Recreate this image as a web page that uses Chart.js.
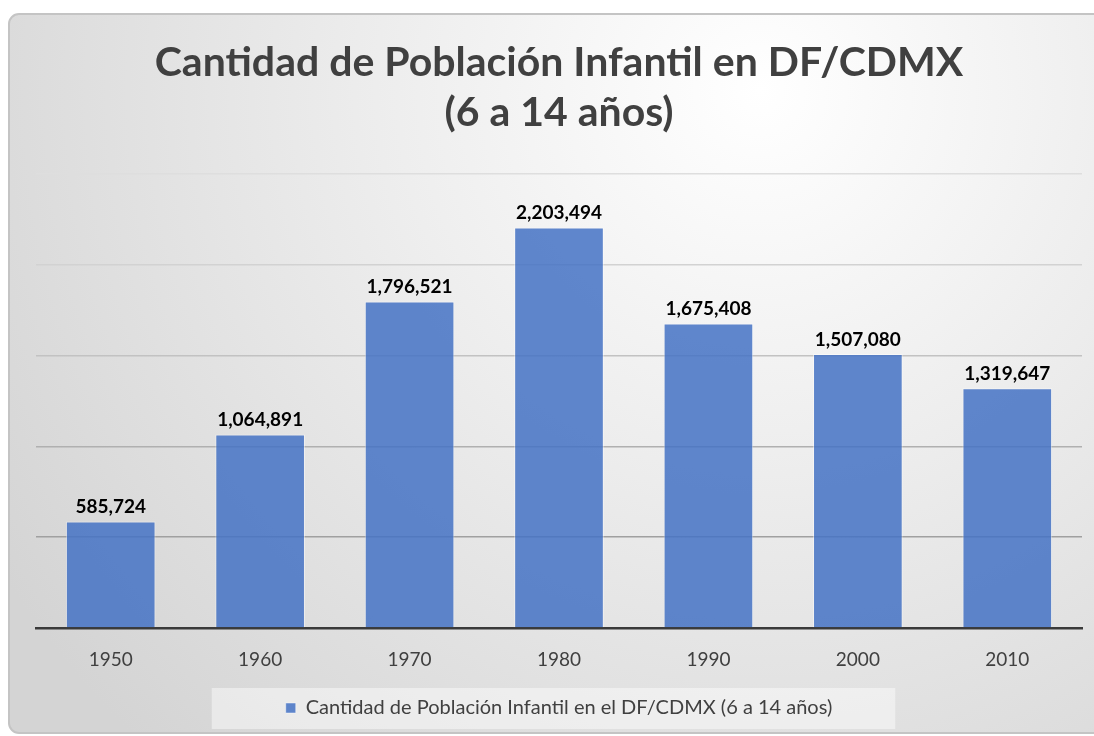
<!DOCTYPE html>
<html>
<head>
<meta charset="utf-8">
<script src="https://cdn.jsdelivr.net/npm/chart.js@4.4.1/dist/chart.umd.min.js"></script>
<style>
    html, body { margin: 0; padding: 0; background: #ffffff; }
    #wrap { width: 1094px; height: 736px; }
</style>
</head>
<body>
<div id="wrap"><canvas id="poblacionChart"></canvas></div>
<script>
// datos del censo
const years = ['1950', '1960', '1970', '1980', '1990', '2000', '2010'];
const poblacion = [585724, 1064891, 1796521, 2203494, 1675408, 1507080, 1319647];
const yTicks = [0, 500000, 1000000, 1500000, 2000000, 2500000];
const titleLines = ['Cantidad de Población Infantil en DF/CDMX', '(6 a 14 años)'];
const seriesName = 'Cantidad de Población Infantil en el DF/CDMX (6 a 14 años)';

const FONT = 'Lato';
const gridColors = ['rgba(0,0,0,0)', '#a0a0a0', '#b0b0b0', '#c2c2c2', '#d2d2d2', '#dedede'];

// fondo con degradado y caja de la leyenda
const fondo = {
    id: 'fondo',
    beforeDraw(chart) {
        const ctx = chart.ctx;
        const w = chart.width, h = chart.height;
        ctx.save();
        ctx.fillStyle = '#ffffff';
        ctx.fillRect(0, 0, w, h);

        const x0 = 9, y0 = 14, x1 = w + 10, y1 = h - 3, r = 10;
        ctx.beginPath();
        ctx.moveTo(x0 + r, y0);
        ctx.lineTo(x1, y0);
        ctx.lineTo(x1, y1);
        ctx.lineTo(x0 + r, y1);
        ctx.arcTo(x0, y1, x0, y1 - r, r);
        ctx.lineTo(x0, y0 + r);
        ctx.arcTo(x0, y0, x0 + r, y0, r);
        ctx.closePath();
        const g = ctx.createRadialGradient(760, 90, 0, 760, 90, 900);
        g.addColorStop(0, '#ffffff');
        g.addColorStop(0.45, '#ececec');
        g.addColorStop(1, '#d4d4d4');
        ctx.fillStyle = g;
        ctx.fill();
        ctx.lineWidth = 2;
        ctx.strokeStyle = '#c4c4c4';
        ctx.stroke();

        const hit = chart.legend.legendHitBoxes[0];
        if (hit) {
            ctx.fillStyle = 'rgba(255,255,255,0.45)';
            ctx.fillRect(hit.left - 74, hit.top + hit.height / 2 - 20, hit.width + 137, 41);
        }
        ctx.restore();
    }
};

// etiquetas de valor encima de cada barra
const etiquetas = {
    id: 'etiquetas',
    afterDatasetsDraw(chart) {
        const ctx = chart.ctx;
        const meta = chart.getDatasetMeta(0);
        ctx.save();
        ctx.font = 'bold 19px ' + FONT;
        ctx.fillStyle = '#000000';
        ctx.textAlign = 'center';
        ctx.textBaseline = 'bottom';
        meta.data.forEach((bar, i) => {
            const v = chart.data.datasets[0].data[i];
            ctx.fillText(v.toLocaleString('en-US'), bar.x, bar.y - 5);
        });
        ctx.restore();
    }
};

new Chart(document.getElementById('poblacionChart'), {
    type: 'bar',
    data: {
        labels: years,
        datasets: [{
            label: seriesName,
            data: poblacion,
            backgroundColor: 'rgba(68,114,196,0.85)',
            borderColor: 'rgba(255,255,255,0.45)',
            borderWidth: 1,
            barPercentage: 0.6,
            categoryPercentage: 1.0
        }]
    },
    options: {
        responsive: true,
        maintainAspectRatio: false,
        animation: false,
        layout: {
            padding: { left: 36, right: 12, top: 0, bottom: 8 }
        },
        plugins: {
            title: {
                display: true,
                text: titleLines,
                color: '#404040',
                font: { family: FONT, size: 41, weight: 'bold', lineHeight: 1.24 },
                padding: { top: 37, bottom: 35 }
            },
            legend: {
                position: 'bottom',
                labels: {
                    color: '#404040',
                    font: { family: FONT, size: 20 },
                    boxWidth: 10,
                    boxHeight: 10,
                    padding: 10
                }
            },
            tooltip: { enabled: false }
        },
        scales: {
            x: {
                grid: { display: false },
                border: { display: true, color: '#3a3a3a', width: 2.5 },
                ticks: {
                    color: '#404040',
                    font: { family: FONT, size: 19 },
                    padding: 12
                },
                afterFit: s => { s.height = 60; }
            },
            y: {
                min: 0,
                max: 2500000,
                afterBuildTicks: s => { s.ticks = yTicks.map(v => ({ value: v })); },
                ticks: { display: false },
                border: { display: false },
                grid: {
                    drawTicks: false,
                    lineWidth: 1.5,
                    color: ctx => gridColors[ctx.index] || '#dddddd'
                },
                afterFit: s => { s.width = 0; }
            }
        }
    },
    plugins: [fondo, etiquetas]
});
</script>
</body>
</html>
